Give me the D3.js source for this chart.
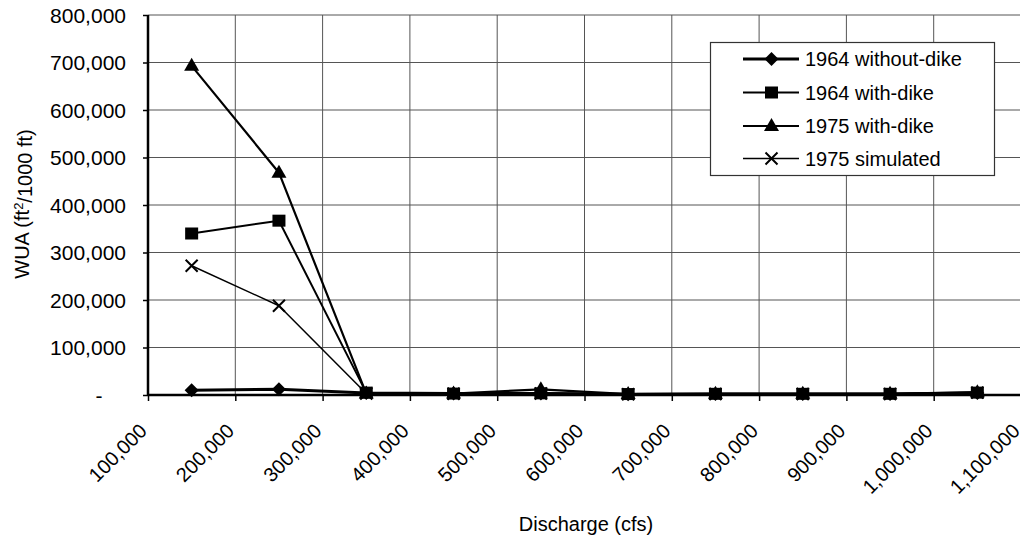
<!DOCTYPE html>
<html>
<head>
<meta charset="utf-8">
<script src="https://cdn.jsdelivr.net/npm/d3@7"></script>
<style>
  html, body { margin: 0; padding: 0; background: #fff; }
  svg { display: block; }
  text { font-family: Arial, "Liberation Sans", sans-serif; fill: #000; }
</style>
</head>
<body>
<svg id="chart" width="1020" height="542"></svg>
<script>
// ---- data ----
const discharge = [150000, 250000, 350000, 450000, 550000, 650000, 750000, 850000, 950000, 1050000];
const wua1964WithoutDike = [10000, 12000, 4000, 3000, 3000, 1500, 2000, 2000, 2000, 4000];
const wua1964WithDike    = [340000, 367000, 5000, 3000, 3500, 2000, 2500, 2500, 2500, 5000];
const wua1975WithDike    = [693000, 468000, 3000, 3000, 12000, 2000, 2500, 2500, 2500, 6000];
const wua1975Simulated   = [272000, 188000, 3000, 2500, 3000, 1500, 2000, 2000, 2000, 5000];
const seriesNames = ["1964 without-dike", "1964 with-dike", "1975 with-dike", "1975 simulated"];
const xTicks = [100000, 200000, 300000, 400000, 500000, 600000, 700000, 800000, 900000, 1000000, 1100000];
const yTicks = [0, 100000, 200000, 300000, 400000, 500000, 600000, 700000, 800000];

const series = [
  { name: seriesNames[0], values: wua1964WithoutDike, marker: "diamond", width: 3 },
  { name: seriesNames[1], values: wua1964WithDike, marker: "square", width: 2 },
  { name: seriesNames[2], values: wua1975WithDike, marker: "triangle", width: 2.2 },
  { name: seriesNames[3], values: wua1975Simulated, marker: "cross", width: 1.5 }
];

const svg = d3.select("#chart");
const pLeft = 148, pRight = 1021, pTop = 15, pBottom = 395;
const x = d3.scaleLinear().domain([100000, 1100000]).range([pLeft, pRight]);
const y = d3.scaleLinear().domain([0, 800000]).range([pBottom, pTop]);
const fmt = d3.format(",");

// gridlines
const grid = svg.append("g").attr("stroke", "#555").attr("stroke-width", 1);
grid.selectAll("line.h").data(yTicks.filter(d => d > 0)).join("line")
  .attr("x1", pLeft).attr("x2", pRight).attr("y1", d => y(d)).attr("y2", d => y(d));
grid.selectAll("line.v").data(xTicks.filter(d => d > 100000)).join("line")
  .attr("x1", d => x(d)).attr("x2", d => x(d)).attr("y1", pTop).attr("y2", pBottom);

// axes
const yAxis = d3.axisLeft(y).tickValues(yTicks).tickSize(5).tickFormat("");
const gy = svg.append("g").attr("transform", `translate(${pLeft},0)`).call(yAxis);
gy.select(".domain").attr("stroke", "#000").attr("stroke-width", 2.5).attr("d", `M0,${pTop}V${pBottom}`);
gy.selectAll(".tick line").attr("stroke", "#000").attr("stroke-width", 1.5);

const xAxis = d3.axisBottom(x).tickValues(xTicks).tickSize(6).tickFormat("");
const gx = svg.append("g").attr("transform", `translate(0,${pBottom})`).call(xAxis);
gx.select(".domain").attr("stroke", "#000").attr("stroke-width", 2.5).attr("d", `M${pLeft},0H${pRight}`);
gx.selectAll(".tick line").attr("stroke", "#000").attr("stroke-width", 1.5);

// y tick labels
svg.append("g").selectAll("text").data(yTicks).join("text")
  .attr("x", d => d === 0 ? 99 : 126)
  .attr("y", d => y(d))
  .attr("dy", "0.36em")
  .attr("text-anchor", d => d === 0 ? "middle" : "end")
  .style("font-size", "21px")
  .text(d => d === 0 ? "-" : fmt(d));

// x tick labels rotated
svg.append("g").selectAll("text").data(xTicks).join("text")
  .attr("transform", d => `translate(${x(d) - 10},${pBottom + 27}) rotate(-45)`)
  .attr("dy", "0.72em")
  .attr("text-anchor", "end")
  .style("font-size", "20px")
  .text(d => fmt(d));

// axis titles
svg.append("text")
  .attr("x", 586).attr("y", 531)
  .attr("text-anchor", "middle")
  .style("font-size", "20px")
  .text("Discharge (cfs)");

const yt = svg.append("text")
  .attr("transform", `translate(29,204) rotate(-90)`)
  .attr("text-anchor", "middle")
  .style("font-size", "20px");
yt.append("tspan").text("WUA (ft");
yt.append("tspan").attr("dy", "-0.45em").style("font-size", "13px").text("2");
yt.append("tspan").attr("dy", "0.45em").text("/1000 ft)");

// markers
function drawMarker(g, type, cx, cy) {
  if (type === "diamond") {
    g.append("path").attr("d", `M${cx},${cy - 7}L${cx + 7},${cy}L${cx},${cy + 7}L${cx - 7},${cy}Z`).attr("fill", "#000");
  } else if (type === "square") {
    g.append("rect").attr("x", cx - 6.5).attr("y", cy - 6).attr("width", 13).attr("height", 12).attr("fill", "#000");
  } else if (type === "triangle") {
    g.append("path").attr("d", `M${cx},${cy - 8}L${cx + 7.5},${cy + 5}L${cx - 7.5},${cy + 5}Z`).attr("fill", "#000");
  } else {
    g.append("path").attr("d", `M${cx - 6},${cy - 6}L${cx + 6},${cy + 6}M${cx + 6},${cy - 6}L${cx - 6},${cy + 6}`)
      .attr("stroke", "#000").attr("stroke-width", 2).attr("fill", "none");
  }
}

const line = d3.line().x((d, i) => x(discharge[i])).y(d => y(d));
const plot = svg.append("g");
series.slice().reverse().forEach(s => {
  plot.append("path").datum(s.values).attr("d", line)
    .attr("fill", "none").attr("stroke", "#000").attr("stroke-width", s.width).attr("stroke-linejoin", "round");
});
series.slice().reverse().forEach(s => {
  const g = plot.append("g");
  s.values.forEach((v, i) => drawMarker(g, s.marker, x(discharge[i]), y(v)));
});

// legend
const lg = svg.append("g");
lg.append("rect").attr("x", 710.5).attr("y", 42.5).attr("width", 284).attr("height", 133)
  .attr("fill", "#fff").attr("stroke", "#333").attr("stroke-width", 1.2);
const rowY = [59, 92.5, 126, 158.5];
series.forEach((s, i) => {
  const g = lg.append("g");
  g.append("line").attr("x1", 743).attr("x2", 799).attr("y1", rowY[i]).attr("y2", rowY[i])
    .attr("stroke", "#000").attr("stroke-width", s.width);
  drawMarker(g, s.marker, 771.5, rowY[i]);
  g.append("text").attr("x", 805).attr("y", rowY[i]).attr("dy", "0.36em")
    .style("font-size", "20px").text(s.name);
});
</script>
</body>
</html>
